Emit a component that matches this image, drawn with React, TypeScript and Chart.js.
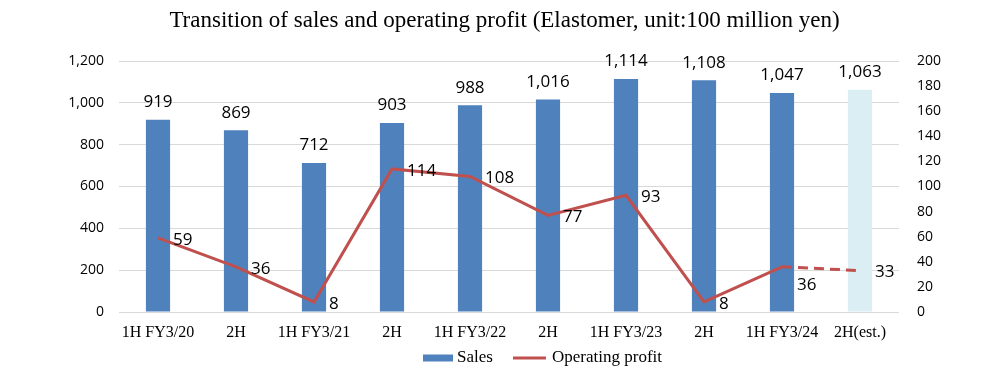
import React, { useEffect, useRef } from "react";
import { Chart, registerables } from "chart.js";

Chart.register(...registerables);

const titleText = "Transition of sales and operating profit (Elastomer, unit:100 million yen)";
const categories = ["1H FY3/20", "2H", "1H FY3/21", "2H", "1H FY3/22", "2H", "1H FY3/23", "2H", "1H FY3/24", "2H(est.)"];
const sales = [919, 869, 712, 903, 988, 1016, 1114, 1108, 1047, 1063];
const operatingProfit = [59, 36, 8, 114, 108, 77, 93, 8, 36, 33];
const estimateFlags = [false, false, false, false, false, false, false, false, false, true];
const profitLabelDy = [2, 2, 2, 2, 2, 2, 2, 2, 18, 2];
const legendLabels = ["Sales", "Operating profit"];

const BLUE = "#4F81BD";
const LIGHT = "#DAEEF3";
const RED = "#C0504D";
const SANS = "'Open Sans', 'Liberation Sans', sans-serif";
const SERIF = "'Liberation Serif', 'Times New Roman', serif";

const fmt = (v: number) => v.toLocaleString("en-US");

const overlayPlugin = {
  id: "overlay",
  afterDatasetsDraw(chart: any) {
    const ctx = chart.ctx;
    ctx.save();
    const barMeta = chart.getDatasetMeta(0);
    ctx.font = `17px ${SANS}`;
    ctx.fillStyle = "#000";
    ctx.textAlign = "center";
    ctx.textBaseline = "middle";
    barMeta.data.forEach((el: any, i: number) => {
      ctx.fillText(fmt(sales[i]), el.x, el.y - 17.5);
    });
    const lineMeta = chart.getDatasetMeta(1);
    ctx.textAlign = "left";
    lineMeta.data.forEach((el: any, i: number) => {
      ctx.fillText(fmt(operatingProfit[i]), el.x + 15, el.y + profitLabelDy[i]);
    });
    ctx.restore();
  },
  afterDraw(chart: any) {
    const ctx = chart.ctx;
    const w = chart.width;
    ctx.save();
    ctx.font = `23px ${SERIF}`;
    ctx.fillStyle = "#000";
    ctx.textAlign = "center";
    ctx.textBaseline = "middle";
    ctx.fillText(titleText, w / 2 + 6, 21);
    const ly = 358;
    ctx.font = `17px ${SERIF}`;
    ctx.textAlign = "left";
    ctx.fillStyle = BLUE;
    ctx.fillRect(423, ly - 3.5, 30, 7);
    ctx.fillStyle = "#000";
    ctx.fillText(legendLabels[0], 457, ly);
    ctx.strokeStyle = RED;
    ctx.lineWidth = 3;
    ctx.beginPath();
    ctx.moveTo(513, ly);
    ctx.lineTo(546, ly);
    ctx.stroke();
    ctx.fillText(legendLabels[1], 552, ly);
    ctx.restore();
  },
};

export default function App() {
  const ref = useRef<HTMLCanvasElement>(null);
  useEffect(() => {
    if (!ref.current) return;
    const chart = new Chart(ref.current, {
      type: "bar",
      data: {
        labels: categories,
        datasets: [
          {
            type: "bar",
            label: legendLabels[0],
            data: sales,
            backgroundColor: estimateFlags.map((e) => (e ? LIGHT : BLUE)),
            barPercentage: 0.31,
            categoryPercentage: 1,
            yAxisID: "y",
            order: 2,
          },
          {
            type: "line",
            label: legendLabels[1],
            data: operatingProfit,
            borderColor: RED,
            borderWidth: 3,
            pointRadius: 0,
            tension: 0,
            yAxisID: "y1",
            order: 1,
            segment: {
              borderDash: (c: any) => (estimateFlags[c.p1DataIndex] ? [10, 6] : undefined),
            },
          } as any,
        ],
      },
      options: {
        responsive: false,
        animation: false,
        layout: { padding: { top: 61, left: 0, right: 0, bottom: 0 } },
        plugins: {
          legend: { display: false },
          title: { display: false },
          tooltip: { enabled: false },
        },
        scales: {
          x: {
            grid: { display: false, drawTicks: false },
            border: { display: false },
            ticks: {
              font: { family: SERIF, size: 16 },
              color: "#000",
              padding: 11,
              maxRotation: 0,
              autoSkip: false,
            },
            afterFit: (s: any) => {
              s.height = 79;
            },
          },
          y: {
            position: "left",
            min: 0,
            max: 1200,
            grid: { color: "#D9D9D9", lineWidth: 1, drawTicks: false },
            border: { display: false },
            ticks: {
              stepSize: 200,
              font: { family: SANS, size: 14 },
              color: "#000",
              padding: 15,
              callback: (v: any) => fmt(Number(v)),
            },
            afterFit: (s: any) => {
              s.width = 119;
            },
          },
          y1: {
            position: "right",
            min: 0,
            max: 200,
            grid: { display: false, drawTicks: false },
            border: { display: false },
            ticks: {
              stepSize: 20,
              font: { family: SANS, size: 14 },
              color: "#000",
              padding: 18,
            },
            afterFit: (s: any) => {
              s.width = 98;
            },
          },
        },
      },
      plugins: [overlayPlugin],
    });
    return () => chart.destroy();
  }, []);
  return (
    <div style={{ position: "fixed", left: 0, top: 0, width: 997, height: 391, background: "#fff" }}>
      <canvas ref={ref} width={997} height={391} style={{ width: 997, height: 391 }} />
    </div>
  );
}
